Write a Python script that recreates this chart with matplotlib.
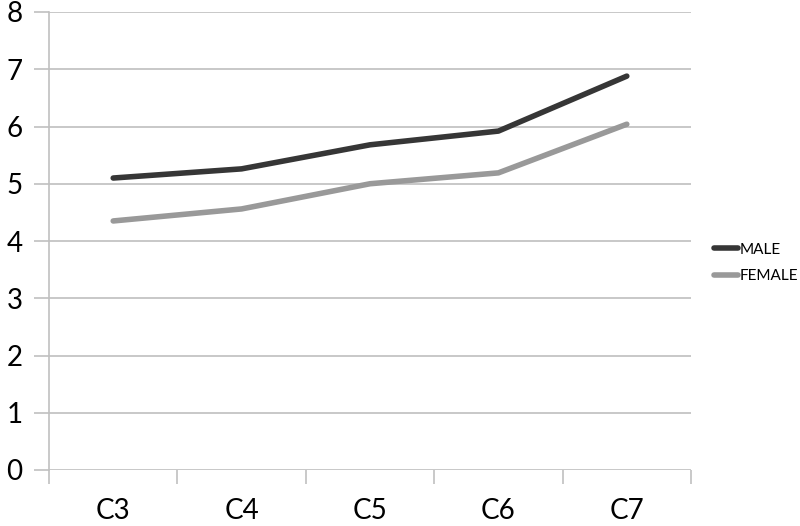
import matplotlib
matplotlib.use("Agg")
import matplotlib.pyplot as plt
import numpy as np

categories = ["C3", "C4", "C5", "C6", "C7"]
male = [5.10, 5.26, 5.68, 5.92, 6.88]
female = [4.35, 4.56, 5.00, 5.19, 6.04]
yticks = [0, 1, 2, 3, 4, 5, 6, 7, 8]

plt.rcParams['font.family'] = ['Lato', 'DejaVu Sans']

fig = plt.figure(figsize=(8, 5.26), dpi=100)
ax = fig.add_axes([49/800, 1-470/526, (691-49)/800, (470-12)/526])

x = np.arange(len(categories))
ax.plot(x, male, color="#363636", lw=4.0, solid_capstyle="round", label="MALE", zorder=3)
ax.plot(x, female, color="#999999", lw=4.0, solid_capstyle="round", label="FEMALE", zorder=3)

ax.set_xlim(-0.5, len(categories) - 0.5)
ax.set_ylim(0, 8)
ax.set_yticks(yticks)
ax.set_yticklabels([str(v) for v in yticks], fontsize=20)
ax.set_xticks(x)
ax.set_xticklabels(categories, fontsize=20)
ax.set_xticks(np.arange(len(categories) + 1) - 0.5, minor=True)
ax.tick_params(axis='x', which='major', length=0, pad=20)
ax.tick_params(axis='x', which='minor', length=10, color="#c0c0c0", width=1.2)
ax.tick_params(axis='y', length=11, color="#c0c0c0", width=1.2, pad=8)
ax.grid(axis='y', color="#c8c8c8", lw=1.4)
ax.set_axisbelow(True)
for s in ["top", "right"]:
    ax.spines[s].set_visible(False)
ax.spines["bottom"].set_visible(False)
ax.spines["left"].set_color("#c0c0c0")
ax.spines["left"].set_linewidth(1.2)

leg = fig.legend(loc="center left", bbox_to_anchor=(700/800, 1-263/526), frameon=False,
                 fontsize=11, handlelength=1.6, handletextpad=0.1, labelspacing=0.85)

fig.savefig("out.png", dpi=100)
